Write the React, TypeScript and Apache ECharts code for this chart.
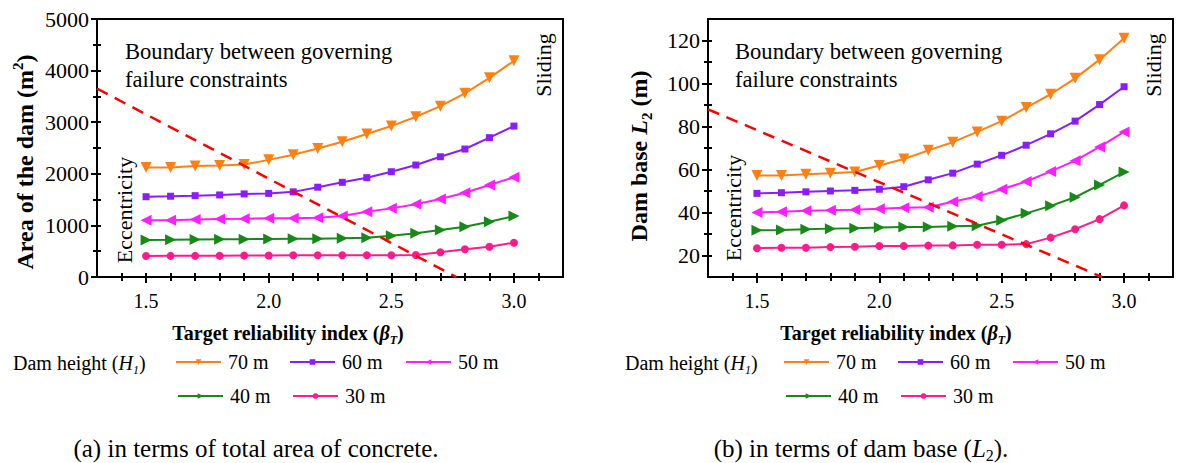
import React, { useEffect, useRef } from "react";
import * as echarts from "echarts";

// ---- data ----
const betas = [1.5, 1.6, 1.7, 1.8, 1.9, 2.0, 2.1, 2.2, 2.3, 2.4, 2.5, 2.6, 2.7, 2.8, 2.9, 3.0];
const seriesNames = ["70 m", "60 m", "50 m", "40 m", "30 m"];

// (a) total area of concrete (m²)
const area70 = [2120, 2120, 2150, 2160, 2180, 2270, 2370, 2490, 2620, 2770, 2925, 3105, 3310, 3560, 3860, 4190];
const area60 = [1556, 1565, 1576, 1590, 1610, 1620, 1650, 1740, 1835, 1925, 2040, 2170, 2330, 2480, 2700, 2925];
const area50 = [1098, 1100, 1115, 1124, 1130, 1137, 1140, 1150, 1182, 1266, 1330, 1408, 1510, 1634, 1783, 1932];
const area40 = [717, 720, 725, 730, 733, 736, 740, 740, 750, 762, 800, 847, 910, 975, 1072, 1182];
const area30 = [407, 410, 410, 412, 415, 418, 420, 420, 420, 420, 420, 426, 479, 537, 587, 665];
const boundaryArea = [[1.3, 3650], [2.765, 0]];

// (b) dam base L2 (m)
const base70 = [57.2, 57.2, 57.8, 58.3, 58.8, 61.9, 64.9, 68.9, 72.7, 77.5, 82.5, 88.8, 95.0, 102.4, 111.1, 121.1];
const base60 = [48.9, 49.2, 49.6, 50.0, 50.3, 50.8, 52.0, 55.2, 58.3, 62.5, 66.6, 71.3, 76.6, 82.5, 90.2, 98.5];
const base50 = [40.0, 40.3, 40.8, 41.0, 41.3, 41.7, 42.2, 42.4, 45.0, 47.4, 50.8, 54.4, 59.1, 64.1, 70.5, 77.5];
const base40 = [31.7, 31.9, 32.2, 32.5, 32.7, 33.0, 33.2, 33.3, 33.6, 33.8, 36.4, 39.6, 43.1, 47.1, 52.8, 58.8];
const base30 = [23.4, 23.6, 23.6, 23.9, 24.1, 24.4, 24.4, 24.6, 24.7, 25.0, 25.0, 25.3, 28.3, 32.2, 36.9, 43.3];
const boundaryBase = [[1.3, 88], [2.91, 10]];

// ticks
const xMajorTicks = [1.5, 2.0, 2.5, 3.0];
const xMinorTicks = [1.4, 1.6, 1.7, 1.8, 1.9, 2.1, 2.2, 2.3, 2.4, 2.6, 2.7, 2.8, 2.9, 3.1];
const areaMajorTicks = [0, 1000, 2000, 3000, 4000, 5000];
const areaMinorTicks = [500, 1500, 2500, 3500, 4500];
const baseMajorTicks = [20, 40, 60, 80, 100, 120];
const baseMinorTicks = [30, 50, 70, 90, 110];

const FONT = "Liberation Serif";
const colors = ["#ff8010", "#8a1cff", "#ff1cff", "#168a16", "#ff1a8c"];
const symbols = ["triangle", "rect", "triangle", "triangle", "circle"];
const symbolRot = [180, 0, 90, -90, 0];
const symbolSizes = [11, 7, 11, 11, 8];

function axisSet(dim: "x" | "y", gridIndex: number, min: number, max: number, majors: number[], minors: number[], fmt: (v: number) => string) {
  const pos = dim === "x" ? "bottom" : "left";
  const base = { type: "value", gridIndex, min, max, position: pos, splitLine: { show: false }, axisPointer: { show: false } };
  const tickStyle = { color: "#000", width: 2 };
  const main = {
    ...base,
    axisLine: { show: true, onZero: false, lineStyle: { color: "#000", width: 2 } },
    axisTick: { show: true, customValues: majors, inside: false, length: 6, lineStyle: tickStyle },
    axisLabel: {
      show: true,
      customValues: majors,
      formatter: fmt,
      color: "#000",
      fontFamily: FONT,
      fontSize: dim === "x" ? 20 : 22,
      margin: dim === "x" ? 14 : 8,
    },
  };
  const mk = (vals: number[], inside: boolean, len: number) => ({
    ...base,
    axisLine: { show: false, onZero: false },
    axisLabel: { show: false },
    axisTick: { show: true, customValues: vals, inside, length: len, lineStyle: tickStyle },
  });
  return [main, mk(majors, true, 4), mk(minors, false, 4), mk(minors, true, 4)];
}

function lineSeries(name: string, i: number, values: number[], xAxisIndex: number, yAxisIndex: number) {
  return {
    type: "line",
    name,
    xAxisIndex,
    yAxisIndex,
    data: betas.map((b, k) => [b, values[k]]),
    symbol: symbols[i],
    symbolRotate: symbolRot[i],
    symbolSize: symbolSizes[i],
    showAllSymbol: true,
    itemStyle: { color: colors[i] },
    lineStyle: { color: colors[i], width: 2 },
    silent: true,
  };
}

function boundarySeries(data: number[][], xAxisIndex: number, yAxisIndex: number) {
  return {
    type: "line",
    name: "boundary",
    xAxisIndex,
    yAxisIndex,
    data,
    symbol: "none",
    lineStyle: { color: "#ff0000", width: 2.5, type: [12, 8] },
    silent: true,
    z: 5,
  };
}

function txt(x: number, y: number, text: string, size: number, opts: any = {}) {
  return {
    type: "text",
    x,
    y,
    rotation: opts.rotation || 0,
    style: {
      text,
      fontFamily: FONT,
      fontSize: size,
      fontWeight: opts.bold ? "bold" : "normal",
      fill: "#000",
      align: opts.align || "left",
      verticalAlign: opts.verticalAlign || "middle",
      lineHeight: opts.lineHeight,
      rich: opts.rich,
    },
    silent: true,
  };
}

export default function App() {
  const ref = useRef<HTMLDivElement>(null);
  useEffect(() => {
    if (!ref.current) return;
    const chart = echarts.init(ref.current, null, { renderer: "svg" });

    const grids = [
      { left: 97, top: 19, width: 466, height: 258, show: true, borderColor: "#000", borderWidth: 2, backgroundColor: "transparent" },
      { left: 708, top: 19, width: 465, height: 258, show: true, borderColor: "#000", borderWidth: 2, backgroundColor: "transparent" },
    ];
    const f1 = (v: number) => v.toFixed(1);
    const fi = (v: number) => String(Math.round(v));
    const xAxes = [
      ...axisSet("x", 0, 1.3, 3.2, xMajorTicks, xMinorTicks, f1),
      ...axisSet("x", 1, 1.3, 3.2, xMajorTicks, xMinorTicks, f1),
    ];
    const yAxes = [
      ...axisSet("y", 0, 0, 5000, areaMajorTicks, areaMinorTicks, fi),
      ...axisSet("y", 1, 10, 130, baseMajorTicks, baseMinorTicks, fi),
    ];

    const areaSets = [area70, area60, area50, area40, area30];
    const baseSets = [base70, base60, base50, base40, base30];
    const series: any[] = [];
    areaSets.forEach((d, i) => series.push(lineSeries(seriesNames[i], i, d, 0, 0)));
    series.push(boundarySeries(boundaryArea, 0, 0));
    baseSets.forEach((d, i) => series.push(lineSeries(seriesNames[i], i, d, 4, 4)));
    series.push(boundarySeries(boundaryBase, 4, 4));

    const legendPos = [
      // left chart
      [175, 352], [289, 352], [405, 352], [177, 386], [292, 386],
      // right chart
      [783, 352], [897, 352], [1012, 352], [785, 386], [900, 386],
    ];
    const legends = legendPos.map((p, k) => ({
      data: [seriesNames[k % 5]],
      left: p[0],
      top: p[1],
      padding: 0,
      itemWidth: 45,
      itemHeight: 7,
      itemGap: 0,
      selectedMode: false,
      textStyle: { fontFamily: FONT, fontSize: 20, color: "#000", padding: [0, 0, 0, 2] },
    }));

    const richBold = (size: number) => ({
      b: { fontFamily: FONT, fontSize: size, fontWeight: "bold", fill: "#000", lineHeight: size + 6 },
      bi: { fontFamily: FONT, fontSize: size, fontWeight: "bold", fontStyle: "italic", fill: "#000", lineHeight: size + 6 },
      sup: { fontFamily: FONT, fontSize: Math.round(size * 0.62), fontWeight: "bold", fill: "#000", verticalAlign: "top", lineHeight: size + 6 },
      sub: { fontFamily: FONT, fontSize: Math.round(size * 0.62), fontWeight: "bold", fontStyle: "italic", fill: "#000", verticalAlign: "bottom", lineHeight: size + 6 },
      subn: { fontFamily: FONT, fontSize: Math.round(size * 0.62), fontWeight: "bold", fill: "#000", verticalAlign: "bottom", lineHeight: size + 6 },
    });
    const richNormal = (size: number) => ({
      n: { fontFamily: FONT, fontSize: size, fill: "#000", lineHeight: size + 6 },
      i: { fontFamily: FONT, fontSize: size, fontStyle: "italic", fill: "#000", lineHeight: size + 6 },
      sub: { fontFamily: FONT, fontSize: Math.round(size * 0.62), fontStyle: "italic", fill: "#000", verticalAlign: "bottom", lineHeight: size + 6 },
      subn: { fontFamily: FONT, fontSize: Math.round(size * 0.64), fill: "#000", verticalAlign: "bottom", lineHeight: size + 6 },
    });

    const graphics: any[] = [
      // left panel texts
      txt(125, 37, "Boundary between governing\nfailure constraints", 22.6, { verticalAlign: "top", lineHeight: 28 }),
      txt(124, 210, "Eccentricity", 22, { rotation: Math.PI / 2, align: "center" }),
      txt(543, 65, "Sliding", 22, { rotation: Math.PI / 2, align: "center" }),
      txt(25, 162, "{b|Area of the dam (m}{sup|2}{b|)}", 24, { rotation: Math.PI / 2, align: "center", rich: richBold(24) }),
      txt(288, 333, "{b|Target reliability index (}{bi|β}{sub|T}{b|)}", 20, { align: "center", rich: richBold(20) }),
      txt(13, 363, "{n|Dam height (}{i|H}{sub|1}{n|)}", 20, { rich: richNormal(20) }),
      txt(256, 448, "(a) in terms of total area of concrete.", 25, { align: "center" }),
      // right panel texts
      txt(735, 37, "Boundary between governing\nfailure constraints", 22.6, { verticalAlign: "top", lineHeight: 28 }),
      txt(733, 208, "Eccentricity", 22, { rotation: Math.PI / 2, align: "center" }),
      txt(1153, 65, "Sliding", 22, { rotation: Math.PI / 2, align: "center" }),
      txt(639, 156, "{b|Dam base }{bi|L}{subn|2}{b| (m)}", 24, { rotation: Math.PI / 2, align: "center", rich: richBold(24) }),
      txt(896, 333, "{b|Target reliability index (}{bi|β}{sub|T}{b|)}", 20, { align: "center", rich: richBold(20) }),
      txt(625, 363, "{n|Dam height (}{i|H}{sub|1}{n|)}", 20, { rich: richNormal(20) }),
      txt(861, 448, "{n|(b) in terms of dam base (}{i|L}{subn|2}{n|).}", 25, { align: "center", rich: richNormal(25) }),
    ];

    chart.setOption({
      animation: false,
      backgroundColor: "#fff",
      textStyle: { fontFamily: FONT },
      grid: grids,
      xAxis: xAxes,
      yAxis: yAxes,
      legend: legends,
      series,
      graphic: graphics,
    });
    return () => chart.dispose();
  }, []);
  return <div ref={ref} style={{ position: "fixed", left: 0, top: 0, width: 1188, height: 463 }} />;
}
